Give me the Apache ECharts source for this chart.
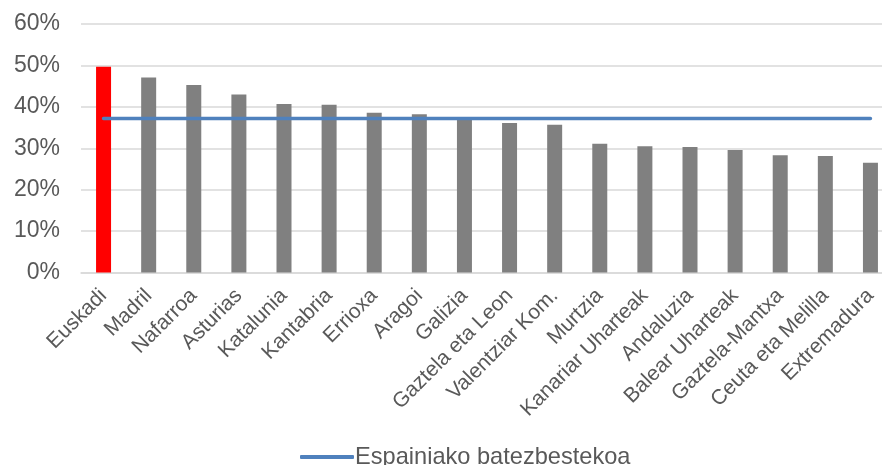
<!DOCTYPE html>
<html>
<head>
<meta charset="utf-8">
<title>Espainiako batezbestekoa</title>
<script src="https://cdn.jsdelivr.net/npm/echarts@6/dist/echarts.min.js"></script>
<style>
  html, body { margin: 0; padding: 0; background: #ffffff; }
  #chart { width: 882px; height: 465px; }
</style>
</head>
<body>
<div id="chart"></div>
<script>
// Autonomous communities, sorted by share (%)
const regions = [
  'Euskadi', 'Madril', 'Nafarroa', 'Asturias', 'Katalunia', 'Kantabria',
  'Errioxa', 'Aragoi', 'Galizia', 'Gaztela eta Leon', 'Valentziar Kom.',
  'Murtzia', 'Kanariar Uharteak', 'Andaluzia', 'Balear Uharteak',
  'Gaztela-Mantxa', 'Ceuta eta Melilla', 'Extremadura'
];
const shares = [
  49.7, 47.1, 45.3, 43.0, 40.7, 40.5,
  38.6, 38.2, 37.4, 36.1, 35.7,
  31.1, 30.5, 30.3, 29.6,
  28.3, 28.1, 26.5
];
const spainAverage = 37.2;
const highlighted = 'Euskadi';
const yTicks = [0, 10, 20, 30, 40, 50, 60];

const averageLine = regions.map(() => spainAverage);

const textColor = '#595959';
const fontFamily = '"Liberation Sans", Arial, sans-serif';

const chart = echarts.init(document.getElementById('chart'), null, { renderer: 'canvas' });

chart.setOption({
  animation: false,
  backgroundColor: '#ffffff',
  // plot area runs a little past the right edge of the canvas
  grid: {
    left: 81, top: 24, width: 812, height: 248.5,
    containLabel: false,
    outerBoundsMode: 'none'
  },
  legend: {
    data: ['Espainiako batezbestekoa'],
    left: 295,
    top: 440,
    icon: 'roundRect',
    itemWidth: 54,
    itemHeight: 4,
    itemGap: 10,
    textStyle: { color: textColor, fontSize: 23.6, fontFamily: fontFamily, padding: [0, 0, 0, -4] }
  },
  xAxis: {
    type: 'category',
    data: regions,
    boundaryGap: true,
    axisLine: { show: true, lineStyle: { color: '#d9d9d9', width: 1.5 } },
    axisTick: { show: false },
    axisLabel: {
      interval: 0,
      rotate: 45,
      margin: 20,
      color: textColor,
      fontSize: 21,
      fontFamily: fontFamily
    }
  },
  yAxis: {
    type: 'value',
    min: yTicks[0],
    max: yTicks[yTicks.length - 1],
    interval: yTicks[1] - yTicks[0],
    axisLine: { show: false },
    axisTick: { show: false },
    splitLine: { lineStyle: { color: '#d9d9d9', width: 1.5 } },
    axisLabel: {
      formatter: '{value}%',
      margin: 21,
      color: textColor,
      fontSize: 23,
      fontFamily: fontFamily
    }
  },
  series: [
    {
      name: 'Ehunekoa',
      type: 'bar',
      data: shares,
      barWidth: 15,
      itemStyle: {
        color: (p) => (regions[p.dataIndex] === highlighted ? '#ff0000' : '#808080')
      },
      z: 2
    },
    {
      name: 'Espainiako batezbestekoa',
      type: 'line',
      data: averageLine,
      symbol: 'none',
      lineStyle: { color: '#4f81bd', width: 3.5, cap: 'round' },
      itemStyle: { color: '#4f81bd' },
      z: 3
    }
  ]
});
</script>
</body>
</html>
